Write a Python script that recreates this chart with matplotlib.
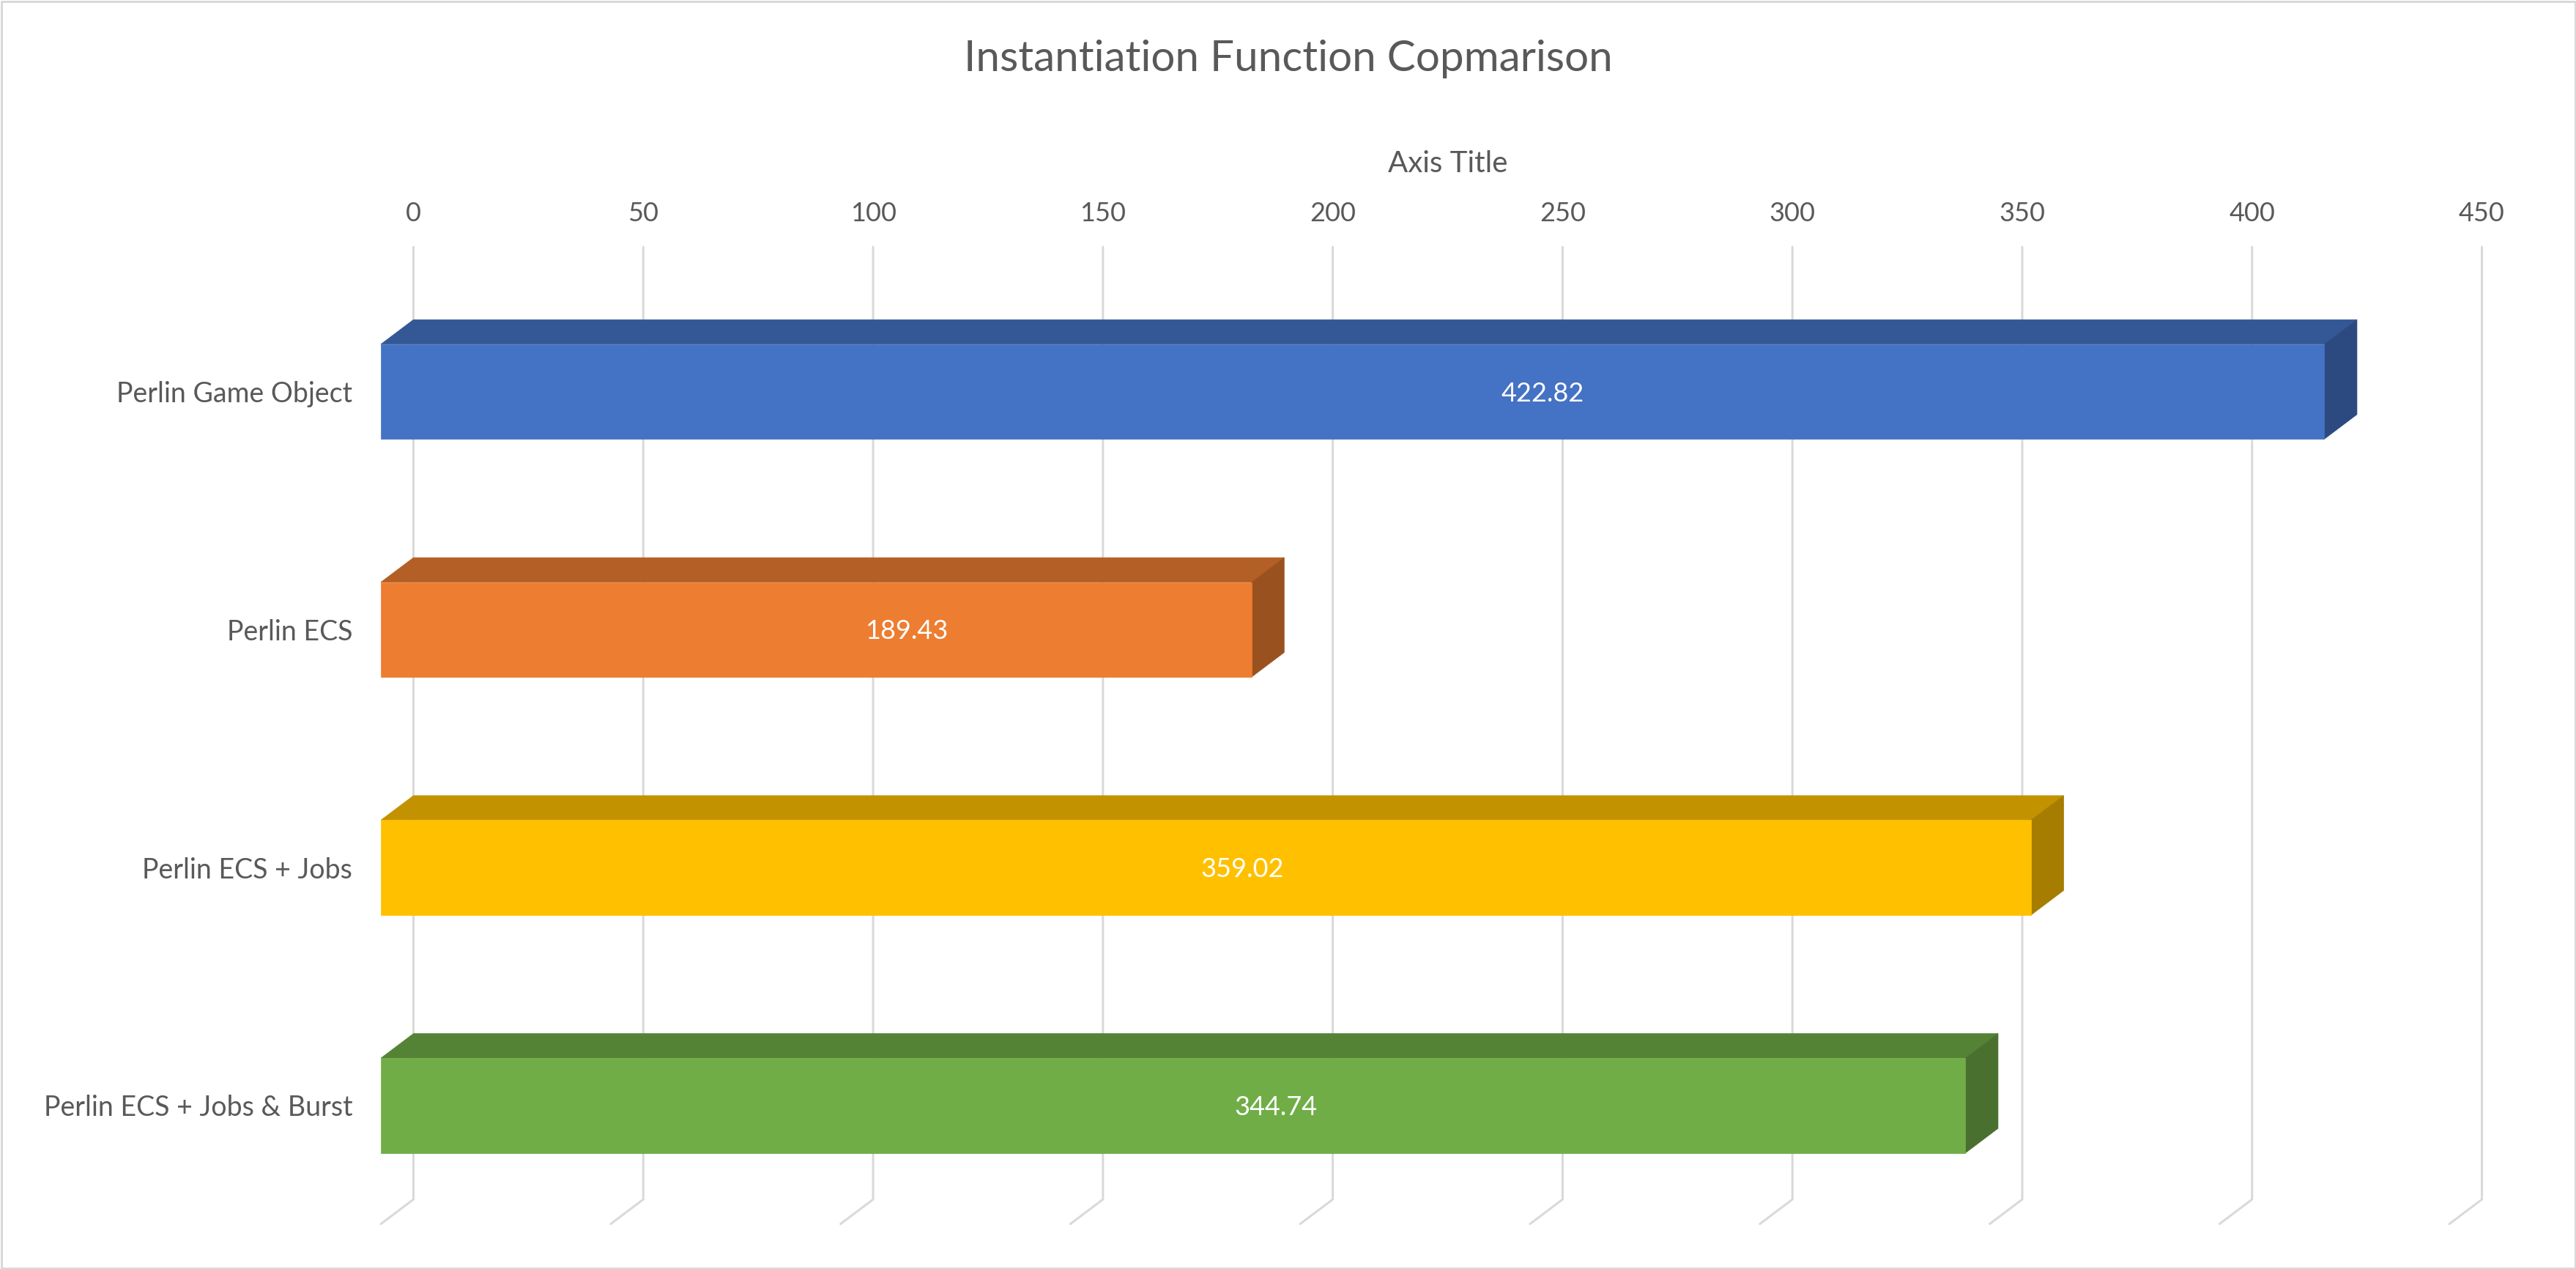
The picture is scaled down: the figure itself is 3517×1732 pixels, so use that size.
import matplotlib
matplotlib.use("Agg")
import matplotlib.pyplot as plt
from matplotlib.patches import Polygon, Rectangle
from matplotlib.colors import to_rgb

# ---------------- data ----------------
categories = ["Perlin Game Object", "Perlin ECS", "Perlin ECS + Jobs", "Perlin ECS + Jobs & Burst"]
values = [422.82, 189.43, 359.02, 344.74]
value_labels = ["422.82", "189.43", "359.02", "344.74"]
ticks = [0, 50, 100, 150, 200, 250, 300, 350, 400, 450]
front_colors = ["#4472C4", "#ED7D31", "#FFC000", "#70AD47"]
title = "Instantiation Function Copmarison"
axis_title = "Axis Title"
# relative position of the data label along each bar (as drawn by the 3D chart)
label_frac = [0.598, 0.604, 0.522, 0.565]

# ---------------- layout ----------------
W, H_PX = 3517, 1732
DPI = 100
FRONT_X0 = 520.0          # px, value 0 on front plane
PX_PER_UNIT = 6.2756      # px per value unit
ROW0 = 534.5              # px from top, centre of first bar face
ROW_STEP = 324.8          # px between bars
DEPTH_DX, DEPTH_DY = 44.5, -33.5   # px, front -> back offset (screen, y down)
BAR_HALF = 64.7           # px
GRID_TOP, GRID_BOT = 337.0, 1637.0
TEXT = "#595959"
GRID = "#D9D9D9"
FONT = "Lato"

plt.rcParams["font.family"] = [FONT, "DejaVu Sans"]

fig = plt.figure(figsize=(W / DPI, H_PX / DPI), dpi=DPI)
fig.patch.set_facecolor("white")
ax = fig.add_axes([0, 0, 1, 1])
ax.axis("off")

# map: x data = value units on front plane, y data = category index (down)
ax.set_xlim(-FRONT_X0 / PX_PER_UNIT, (W - FRONT_X0) / PX_PER_UNIT)
ax.set_ylim((H_PX - ROW0) / ROW_STEP, -ROW0 / ROW_STEP)

def py(p):  # pixel-from-top -> y data
    return (p - ROW0) / ROW_STEP

DX = DEPTH_DX / PX_PER_UNIT
DY = DEPTH_DY / ROW_STEP
HH = BAR_HALF / ROW_STEP

def shade(c, f):
    r, g, b = to_rgb(c)
    return (r * f, g * f, b * f)

# gridlines on back wall + floor lines
lw = 3 * 72 / DPI
for t in ticks:
    ax.plot([t + DX, t + DX, t], [py(GRID_TOP), py(GRID_BOT), py(GRID_BOT) - DY],
            color=GRID, lw=lw, solid_capstyle="round", solid_joinstyle="miter", zorder=1)
    ax.text(t + DX, py(302), f"{t}", ha="center", va="baseline",
            fontsize=26, color=TEXT, zorder=5)

ax.text((ticks[0] + ticks[-1]) / 2 + DX, py(235), axis_title, ha="center", va="baseline",
        fontsize=29, color=TEXT)

fig.text(0.5, 1 - 97 / H_PX, title, ha="center", va="baseline", fontsize=42, color=TEXT)

# bars
for i, (cat, v, lab, col, fr) in enumerate(zip(categories, values, value_labels, front_colors, label_frac)):
    top, bot = i - HH, i + HH
    front = Polygon([(0, top), (v, top), (v, bot), (0, bot)], closed=True,
                    facecolor=col, edgecolor=col, lw=0.5, zorder=3)
    topf = Polygon([(0, top), (v, top), (v + DX, top + DY), (DX, top + DY)], closed=True,
                   facecolor=shade(col, 0.76), edgecolor=shade(col, 0.76), lw=0.5, zorder=3)
    side = Polygon([(v, top), (v + DX, top + DY), (v + DX, bot + DY), (v, bot)], closed=True,
                   facecolor=shade(col, 0.65), edgecolor=shade(col, 0.65), lw=0.5, zorder=3)
    for p in (topf, side, front):
        ax.add_patch(p)
    ax.text(v * fr, i + 13 / ROW_STEP, lab, ha="center", va="baseline",
            fontsize=26, color="white", zorder=6)
    ax.text(-39 / PX_PER_UNIT, i + 14.5 / ROW_STEP, cat, ha="right", va="baseline",
            fontsize=27, color=TEXT, zorder=6)

# chart border
fig.patches.append(Rectangle((1.5 / W, 1.5 / H_PX), 1 - 3 / W, 1 - 3 / H_PX,
                             transform=fig.transFigure, fill=False,
                             edgecolor=GRID, lw=3 * 72 / DPI))

fig.savefig("out.png", dpi=DPI, facecolor="white")
